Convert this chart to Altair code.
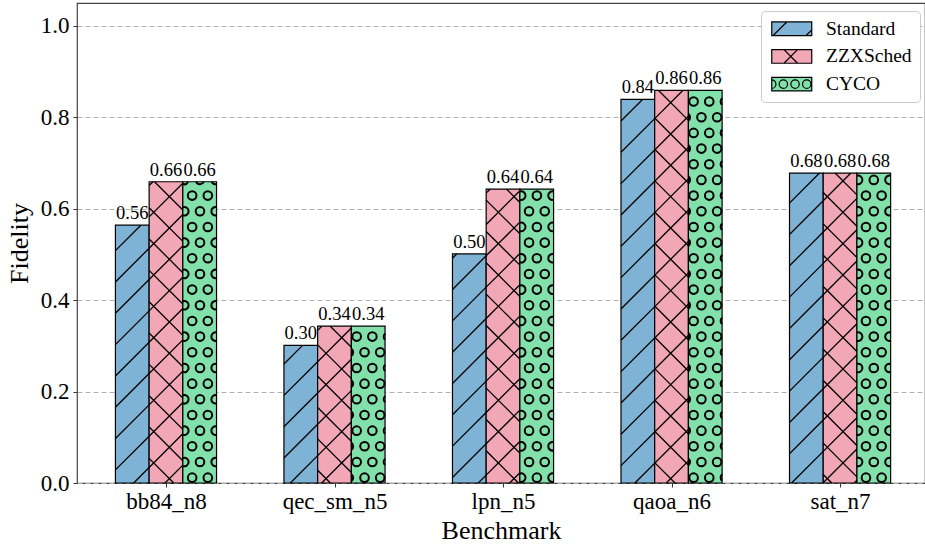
import json

import altair as alt
import numpy as np
import pandas as pd

# ---- data -------------------------------------------------------------
benchmarks = ["bb84_n8", "qec_sm_n5", "lpn_n5", "qaoa_n6", "sat_n7"]
methods = ["Standard", "ZZXSched", "CYCO"]
standard = [0.564, 0.301, 0.501, 0.839, 0.678]
zzxsched = [0.659, 0.343, 0.643, 0.859, 0.678]
cyco = [0.659, 0.343, 0.643, 0.859, 0.678]
colors = ["#7FB3D5", "#F1A7B5", "#82E0AA"]
y_ticks = [0.0, 0.2, 0.4, 0.6, 0.8, 1.0]

# ---- layout -----------------------------------------------------------
FONT = "Liberation Serif"
W, H = 848, 480
X_MIN, X_MAX = -0.528, 4.504
Y_MAX = 1.05
BAR_W = 0.2
KX = W / (X_MAX - X_MIN)   # px per x unit
KY = H / Y_MAX             # px per y unit

rows = []
for i, b in enumerate(benchmarks):
    for j, (m, vals) in enumerate(zip(methods, [standard, zzxsched, cyco])):
        xc = i + (j - 1) * BAR_W
        rows.append(dict(benchmark=b, method=m, value=vals[i], xc=xc,
                         x0=xc - BAR_W / 2, x1=xc + BAR_W / 2))
bars = pd.DataFrame(rows)


def to_px(xv):
    return (xv - X_MIN) * KX


def to_x(px):
    return px / KX + X_MIN


# ---- hatch patterns (pixel-space geometry, mapped back to data units) --
P_LINE = 31.33      # spacing of '/' and 'x' hatch lines
P_DOT = 15.67       # grid spacing of 'o' hatch circles
NE_PHASE = 6.0
SE_PHASE = 2.8
DOT_ROW0 = 5.35
DOT_COL = 13.3
R_DOT = 4.3
RING = 1.0

segments = []
for r in bars.itertuples():
    if r.method == "CYCO":
        continue
    a, b = to_px(r.x0), to_px(r.x1)
    top = r.value * KY
    fams = [1] if r.method == "Standard" else [1, -1]
    for s in fams:
        phase = NE_PHASE if s > 0 else SE_PHASE
        if s > 0:
            cmin, cmax = -b, top - a
        else:
            cmin, cmax = a, top + b
        k0 = int(np.floor((cmin - phase) / P_LINE))
        k1 = int(np.ceil((cmax - phase) / P_LINE))
        for k in range(k0, k1 + 1):
            c = phase + k * P_LINE
            if s > 0:
                lo, hi = max(a, -c), min(b, top - c)
            else:
                lo, hi = max(a, c - top), min(b, c)
            if hi - lo > 0.4:
                segments.append(dict(x=to_x(lo), y=(s * lo + c) / KY,
                                     x2=to_x(hi), y2=(s * hi + c) / KY))
hatch_lines = pd.DataFrame(segments)

N_TH = 144
STEP = 2 * np.pi / N_TH
th = np.arange(N_TH) * STEP
pieces = []
for r in bars[bars.method == "CYCO"].itertuples():
    a, b = to_px(r.x0), to_px(r.x1)
    top = r.value * KY
    k = 0
    while True:
        cy = DOT_ROW0 + k * P_DOT
        if cy - R_DOT > top:
            break
        off = DOT_COL if k % 2 == 1 else DOT_COL - P_DOT / 2
        j0 = int(np.floor((a - R_DOT - off) / P_DOT))
        j1 = int(np.ceil((b + R_DOT - off) / P_DOT))
        for j in range(j0, j1 + 1):
            cx = off + j * P_DOT
            xs = cx + R_DOT * np.sin(th)
            ys = cy + R_DOT * np.cos(th)
            inside = (xs >= a) & (xs <= b) & (ys >= 0) & (ys <= top)
            if not inside.any():
                continue
            if inside.all():
                pieces.append(dict(x=to_x(cx), y=cy / KY, t0=0.0, t1=2 * np.pi))
                continue
            s0 = int(np.argmin(inside))
            rolled = np.roll(inside, -s0)
            n = 0
            while n < N_TH:
                if rolled[n]:
                    m = n
                    while m < N_TH and rolled[m]:
                        m += 1
                    start = ((n + s0) % N_TH) * STEP
                    pieces.append(dict(x=to_x(cx), y=cy / KY,
                                       t0=start, t1=start + (m - n) * STEP))
                    n = m
                else:
                    n += 1
        k += 1
hatch_dots = pd.DataFrame(pieces)

# ---- legend symbols with their hatch drawn into the path --------------
# Symbol units: 1 unit = 7 px (symbolSize 196); patch is 40 x 13.6 px,
# left edge at x = -1 so it starts at the entry's left side.
U = 7.0


def p(v):
    return f"{v / U:.3f}"


X0 = -U                  # patch left edge in px (relative to symbol centre)
X1 = X0 + 40
Y0, Y1 = -6.8, 6.8
RECT = f"M{p(X0)},{p(Y0)}L{p(X1)},{p(Y0)}L{p(X1)},{p(Y1)}L{p(X0)},{p(Y1)}Z"


def seg(xa, ya, xb, yb):
    return f"M{p(X0 + xa)},{p(ya)}L{p(X0 + xb)},{p(yb)}"


def circ(cx, r=4.2):
    c = X0 + cx
    return (f"M{p(c - r)},0A{p(r)},{p(r)} 0 1 1 {p(c + r)},0"
            f"A{p(r)},{p(r)} 0 1 1 {p(c - r)},0")


sym_standard = RECT + seg(1.4, Y1, 15.0, Y0) + seg(34.4, Y1, 40, 1.2)
sym_zzx = RECT + seg(12.2, Y1, 25.8, Y0) + seg(12.2, Y0, 25.8, Y1)
sym_cyco = (RECT + f"M{p(X0)},{p(-4.2)}A{p(4.2)},{p(4.2)} 0 0 1 {p(X0)},{p(4.2)}"
            + circ(11.6) + circ(23.3) + circ(35.0))
shape_expr = (f"datum.value === '{methods[0]}' ? '{sym_standard}' : "
              f"(datum.value === '{methods[1]}' ? '{sym_zzx}' : '{sym_cyco}')")

x_scale = alt.Scale(domain=[X_MIN, X_MAX], nice=False, zero=False)
y_scale = alt.Scale(domain=[0, Y_MAX], nice=False)
x_axis = alt.Axis(values=list(range(len(benchmarks))),
                  labelExpr=f"{json.dumps(benchmarks)}[datum.value]",
                  title="Benchmark", grid=False)
y_axis = alt.Axis(values=y_ticks, format=".1f", title="Fidelity",
                  grid=True, gridDash=[5, 3], gridColor="#b0b0b0", gridWidth=1)

bar_layer = alt.Chart(bars).mark_bar(stroke="black", strokeWidth=1.2, opacity=1).encode(
    x=alt.X("x0:Q", scale=x_scale, axis=x_axis),
    x2="x1:Q",
    y=alt.Y("value:Q", scale=y_scale, axis=y_axis),
    y2=alt.datum(0),
    color=alt.Color(
        "method:N",
        scale=alt.Scale(domain=methods, range=colors),
        legend=alt.Legend(
            title=None, orient="none", legendX=684, legendY=8,
            symbolSize=U * U * 4, symbolStrokeColor="black", symbolStrokeWidth=1.2,
            symbolOpacity=1, symbolType=alt.ExprRef(expr=shape_expr),
            labelFont=FONT, labelFontSize=19.5,
            labelColor="black", labelOffset=37.5, padding=8, rowPadding=6.7,
            fillColor="white", strokeColor="#cccccc", cornerRadius=4,
        ),
    ),
)

line_layer = alt.Chart(hatch_lines).mark_rule(color="black", strokeWidth=1.3).encode(
    x=alt.X("x:Q", scale=x_scale, axis=x_axis),
    x2="x2:Q",
    y=alt.Y("y:Q", scale=y_scale, axis=y_axis),
    y2="y2:Q",
)

dot_layer = alt.Chart(hatch_dots).mark_arc(
    radius=R_DOT + RING, radius2=R_DOT - RING, color="black"
).encode(
    x=alt.X("x:Q", scale=x_scale, axis=x_axis),
    y=alt.Y("y:Q", scale=y_scale, axis=y_axis),
    theta=alt.Theta("t0:Q", scale=None, stack=None),
    theta2="t1:Q",
)

text_layer = alt.Chart(bars).mark_text(
    dy=-6, baseline="alphabetic", font=FONT, fontSize=18.5, color="black"
).encode(
    x=alt.X("xc:Q", scale=x_scale, axis=x_axis),
    y=alt.Y("value:Q", scale=y_scale, axis=y_axis),
    text=alt.Text("value:Q", format=".2f"),
)

chart = (
    alt.layer(bar_layer, line_layer, dot_layer, text_layer)
    .properties(
        width=W, height=H,
        autosize=alt.AutoSizeParams(type="none"),
        padding={"left": 77, "top": 3, "right": 0, "bottom": 63},
        background="white",
    )
    .configure_view(stroke="#444444", strokeWidth=1.2)
    .configure_axis(
        domain=False, tickColor="#333333", tickSize=4, tickWidth=1,
        labelFont=FONT, labelFontSize=23, labelColor="black",
        titleFont=FONT, titleFontSize=26, titleFontWeight="normal",
        titleColor="black",
    )
    .configure_axisX(labelPadding=3, titlePadding=4)
    .configure_axisY(labelPadding=4, titlePadding=8)
)

chart.save("out.html", embed_options={"renderer": "svg", "actions": False})
